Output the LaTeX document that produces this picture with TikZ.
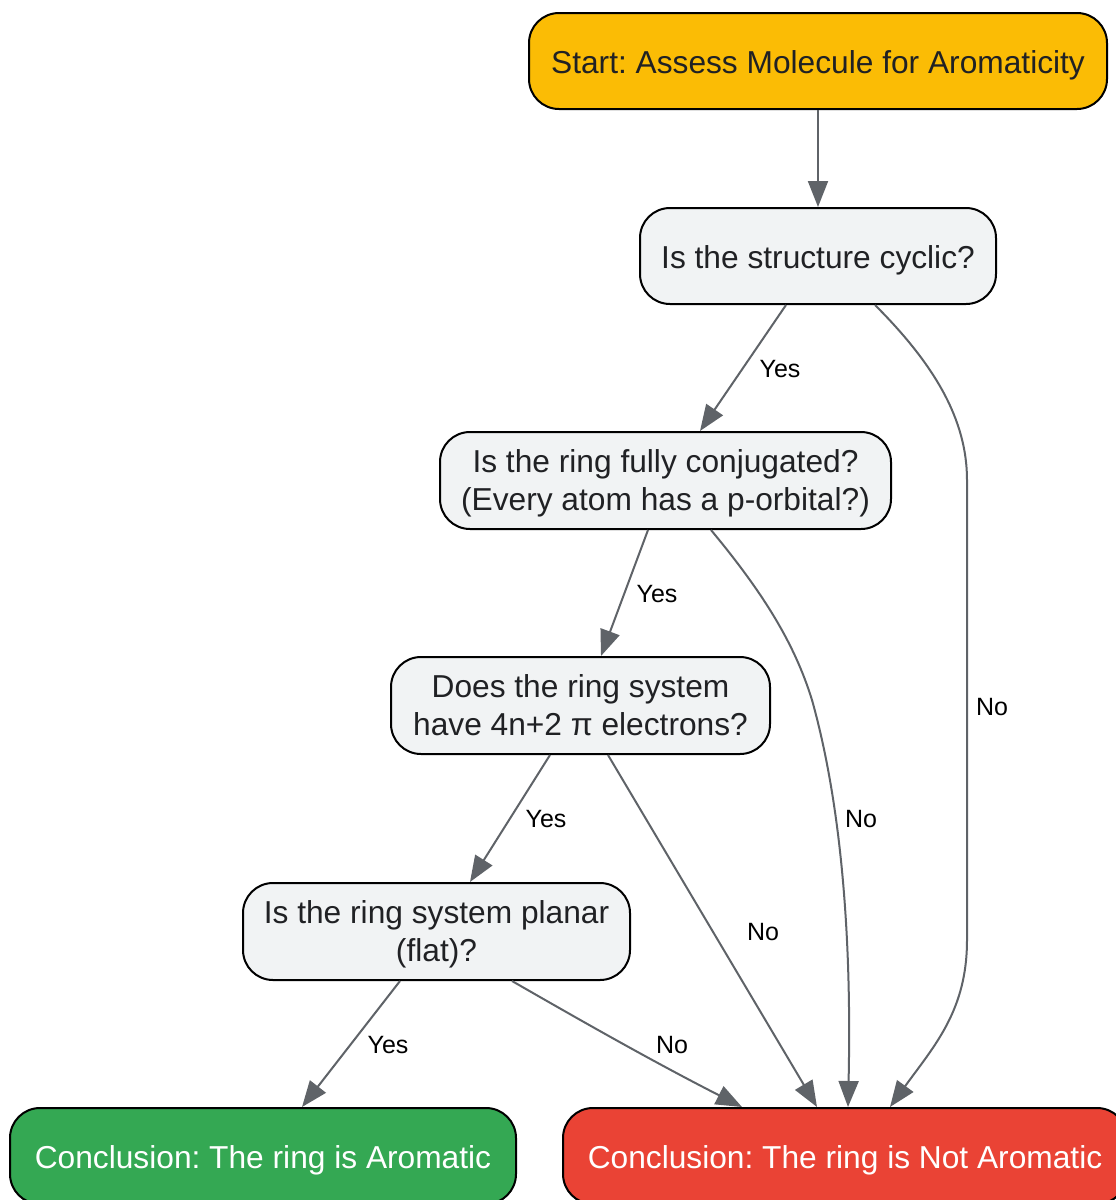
\documentclass[tikz,border=0pt]{standalone}
\usepackage{fontspec}
\setmainfont{Liberation Sans}
\usetikzlibrary{arrows.meta,calc}
\definecolor{startfill}{HTML}{FBBC05}
\definecolor{qfill}{HTML}{F1F3F4}
\definecolor{greenfill}{HTML}{34A853}
\definecolor{redfill}{HTML}{EA4335}
\definecolor{edgecol}{HTML}{5F6368}
\definecolor{txtcol}{HTML}{202124}
\frenchspacing
\begin{document}
\begin{tikzpicture}[x=1pt,y=-1pt,
  box/.style={draw=black,line width=2pt,rounded corners=30pt,inner sep=0pt,align=center,
    font=\fontsize{31.7}{38}\selectfont,text=txtcol,
    execute at begin node={\rule{0pt}{31.5pt}}},
  qbox/.style={box,fill=qfill},
  mline/.style={qbox,text depth=-2pt},
  edge/.style={draw=edgecol,line width=2pt,-{Triangle[length=26pt,width=20pt]}},
  lbl/.style={font=\fontsize{25}{30}\selectfont,text=black,inner sep=1pt}]
\useasboundingbox (0,0) rectangle (1116,1200);
\node[box,fill=startfill,minimum width=578pt,minimum height=96pt] (start) at (818,61) {Start: Assess Molecule for Aromaticity};
\node[qbox,minimum width=356pt,minimum height=96pt] (cyc) at (818,256) {Is the structure cyclic?};
\node[mline,minimum width=451pt,minimum height=97pt] (conj) at (665.5,480.5) {Is the ring fully conjugated?\\(Every atom has a p-orbital?)};
\node[mline,text depth=-5pt,minimum width=379pt,minimum height=97pt] (four) at (580.5,705.5) {Does the ring system\\have 4n+2 π electrons?};
\node[mline,text depth=-3pt,minimum width=387pt,minimum height=97pt] (planar) at (436.5,931.5) {Is the ring system planar\\(flat)?};
\node[box,fill=greenfill,text=white,minimum width=506pt,minimum height=96pt] (arom) at (263,1156) {Conclusion: The ring is Aromatic};
\node[box,fill=redfill,text=white,minimum width=564pt,minimum height=96pt] (notar) at (845,1156) {Conclusion: The ring is Not Aromatic};

\draw[edge] (start.south) -- (cyc.north);
\draw[edge] ([xshift=-32pt]cyc.south) -- ([xshift=34.5pt]conj.north);
\draw[edge] ([xshift=57pt]cyc.south) .. controls (935,365) and (967,420) .. (967,480)
  -- (967,940) .. controls (967,1010) and (935,1045) .. ([xshift=45pt]notar.north);
\draw[edge] ([xshift=-17.5pt]conj.south) -- ([xshift=20.5pt]four.north);
\draw[edge] ([xshift=45.5pt]conj.south) .. controls (765,595) and (795,645) .. (812,700)
  .. controls (840,800) and (852,930) .. ([xshift=3pt]notar.north);
\draw[edge] ([xshift=-30.5pt]four.south) -- ([xshift=33.5pt]planar.north);
\draw[edge] ([xshift=27.5pt]four.south) -- ([xshift=-28pt]notar.north);
\draw[edge] ([xshift=-36.5pt]planar.south) -- ([xshift=39pt]arom.north);
\draw[edge] ([xshift=75.5pt]planar.south) .. controls (580,1020) and (650,1060) .. ([xshift=-103pt]notar.north);

\node[lbl] (l1) at (780,369) {Yes};
\node[lbl] (l2) at (992,707) {No};
\node[lbl] (l3) at (657,594) {Yes};
\node[lbl] (l4) at (861,819) {No};
\node[lbl] (l5) at (546,819) {Yes};
\node[lbl] (l6) at (763,932) {No};
\node[lbl] (l7) at (388,1045) {Yes};
\node[lbl] (l8) at (672,1045) {No};
\end{tikzpicture}
\end{document}
